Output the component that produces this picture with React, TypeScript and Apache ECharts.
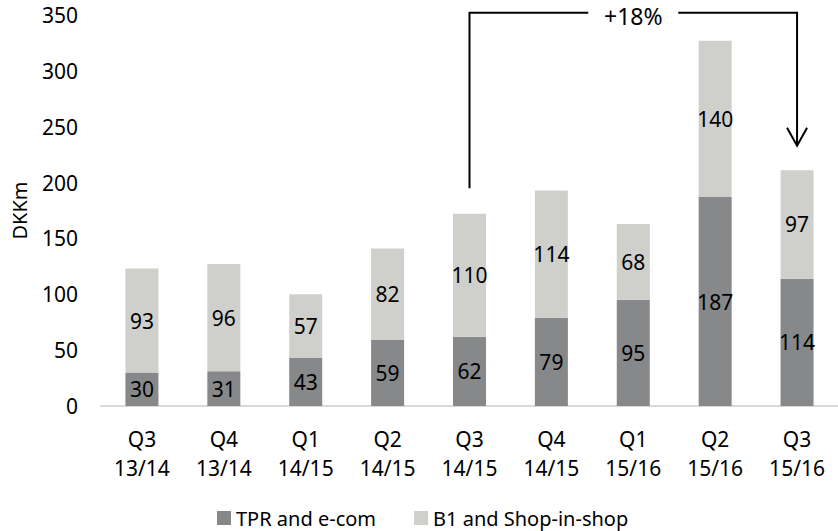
import React, { useEffect, useRef } from "react";
import * as echarts from "echarts";

const quarters = ["Q3", "Q4", "Q1", "Q2", "Q3", "Q4", "Q1", "Q2", "Q3"];
const years = ["13/14", "13/14", "14/15", "14/15", "14/15", "14/15", "15/16", "15/16", "15/16"];
const tprEcom = [30, 31, 43, 59, 62, 79, 95, 187, 114];
const b1Shop = [93, 96, 57, 82, 110, 114, 68, 140, 97];
const seriesNames = ["TPR and e-com", "B1 and Shop-in-shop"];
const growthLabel = "+18%";
const growthFrom = 4;
const growthTo = 8;

const FONT = "Noto Sans";

export default function App() {
  const ref = useRef<HTMLDivElement>(null);
  useEffect(() => {
    if (!ref.current) return;
    const chart = echarts.init(ref.current, undefined, { renderer: "svg" });
    const categories = quarters.map((q, i) => q + "\n" + years[i]);
    const labelStyle = {
      show: true,
      position: "inside" as const,
      color: "#000",
      fontFamily: FONT,
      fontSize: 21,
    };
    chart.setOption({
      animation: false,
      grid: { left: 101, top: 15, width: 745, height: 391 },
      legend: {
        left: 212,
        top: 503,
        itemWidth: 14,
        itemHeight: 14,
        itemGap: 38,
        icon: "rect",
        textStyle: { fontFamily: FONT, fontSize: 20, color: "#000", lineHeight: 20 },
        data: seriesNames,
      },
      xAxis: {
        type: "category",
        data: categories,
        axisLine: { lineStyle: { color: "#d9d9d9", width: 2 } },
        axisTick: { show: false },
        axisLabel: {
          color: "#000",
          fontFamily: FONT,
          fontSize: 21,
          lineHeight: 29,
          margin: 18,
        },
      },
      yAxis: {
        type: "value",
        min: 0,
        max: 350,
        interval: 50,
        name: "DKKm",
        nameLocation: "middle",
        nameRotate: 90,
        nameGap: 72,
        nameTextStyle: { color: "#000", fontFamily: FONT, fontSize: 20 },
        axisLine: { show: false },
        axisTick: { show: false },
        splitLine: { show: false },
        axisLabel: { color: "#000", fontFamily: FONT, fontSize: 21, margin: 23 },
      },
      series: [
        {
          name: seriesNames[0],
          type: "bar",
          stack: "total",
          barWidth: 33,
          data: tprEcom,
          itemStyle: { color: "#86888a" },
          label: labelStyle,
        },
        {
          name: seriesNames[1],
          type: "bar",
          stack: "total",
          barWidth: 33,
          data: b1Shop,
          itemStyle: { color: "#cfcfcb" },
          label: labelStyle,
        },
      ],
    });

    const px = (i: number) => chart.convertToPixel({ xAxisIndex: 0 }, i) as number;
    const py = (v: number) => chart.convertToPixel({ yAxisIndex: 0 }, v) as number;
    const x1 = px(growthFrom);
    const x2 = px(growthTo);
    const yTop = py(352);
    const yStart = py(195);
    const yTip = py(233);
    const midX = (x1 + x2) / 2;
    const gap = 45;
    const lineStyle = { stroke: "#000", lineWidth: 2, fill: "none" };
    chart.setOption({
      graphic: [
        {
          type: "polyline",
          shape: { points: [[x1, yStart], [x1, yTop], [midX - gap, yTop]] },
          style: lineStyle,
        },
        {
          type: "polyline",
          shape: { points: [[midX + gap, yTop], [x2, yTop], [x2, yTip]] },
          style: lineStyle,
        },
        {
          type: "polyline",
          shape: { points: [[x2 - 10, yTip - 18], [x2, yTip], [x2 + 10, yTip - 18]] },
          style: lineStyle,
        },
        {
          type: "text",
          x: midX,
          y: yTop + 3,
          style: {
            text: growthLabel,
            fontFamily: FONT,
            fontSize: 23,
            fill: "#000",
            align: "center",
            verticalAlign: "middle",
          },
        },
      ],
    });
    return () => chart.dispose();
  }, []);
  return <div ref={ref} style={{ width: 838, height: 531, position: "absolute", left: 0, top: 0 }} />;
}
